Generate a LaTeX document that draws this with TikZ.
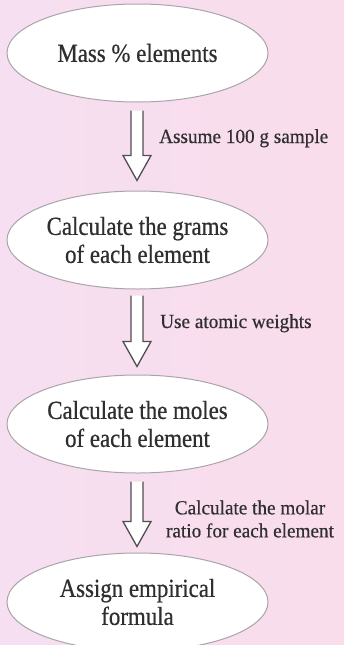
\documentclass[tikz,border=0pt]{standalone}
\usepackage{fontspec}
\setmainfont{Liberation Serif}
\newfontfamily\boxfont{Liberation Serif}[FakeStretch=0.88,FakeBold=0.6]
\newfontfamily\labelfont{Liberation Serif}[FakeStretch=0.96,FakeBold=0.5]
\usetikzlibrary{shapes.geometric,calc}
\definecolor{bgpink}{RGB}{249,221,235}
\definecolor{bglav}{RGB}{246,223,241}
\definecolor{txtgray}{RGB}{48,46,48}
\definecolor{rimgray}{RGB}{170,164,170}
\definecolor{arrgray}{RGB}{80,78,80}
\tikzset{
  stage/.style={ellipse, draw=rimgray, line width=1pt, fill=white,
    minimum width=261pt, minimum height=98pt, inner sep=0pt,
    align=center, text=txtgray, font=\boxfont\fontsize{26}{28}\selectfont},
  steplabel/.style={text=txtgray, inner sep=0pt,
    font=\labelfont\fontsize{20}{23}\selectfont},
  hollow/.style={draw=arrgray, line width=1.3pt, fill=white, line join=miter}
}
% y axis points down: (0,-25) is 25 units up
\newcommand{\hollowarrow}[2]{%
  \path[hollow] ($(#1)+(-6,0)$) -- ($(#2)+(-6,-25)$) -- ($(#2)+(-14,-25)$)
    -- (#2) -- ($(#2)+(14,-25)$) -- ($(#2)+(6,-25)$) -- ($(#1)+(6,0)$);}
\begin{document}
\begin{tikzpicture}[x=1pt,y=-1pt]
\shade[left color=bglav, right color=bgpink] (0,0) rectangle (344,645);
\useasboundingbox (0,0) rectangle (344,645);

\node[stage] (e1) at (137.5,53) {Mass \% elements};
\node[stage] (e2) at (137.5,240) {Calculate the grams\\of each element};
\node[stage] (e3) at (137.5,424) {Calculate the moles\\of each element};
\node[stage] (e4) at (137.5,602) {Assign empirical\\formula};

\coordinate (a1top) at ($(e1.south)+(-0.5,8)$);
\coordinate (a1tip) at ($(e2.north)+(-0.5,-10)$);
\coordinate (a2top) at ($(e2.south)+(-0.5,6)$);
\coordinate (a2tip) at ($(e3.north)+(-0.5,-8)$);
\coordinate (a3top) at ($(e3.south)+(-0.5,8)$);
\coordinate (a3tip) at ($(e4.north)+(-0.5,-6)$);

\hollowarrow{a1top}{a1tip}
\hollowarrow{a2top}{a2tip}
\hollowarrow{a3top}{a3tip}

\node[steplabel, anchor=base west] (l1) at (159,143) {Assume 100 g sample};
\node[steplabel, anchor=base west] (l2) at (160,328) {Use atomic weights};
\node[steplabel, align=center] (l3) at (250,519) {Calculate the molar\\ratio for each element};
\end{tikzpicture}
\end{document}
